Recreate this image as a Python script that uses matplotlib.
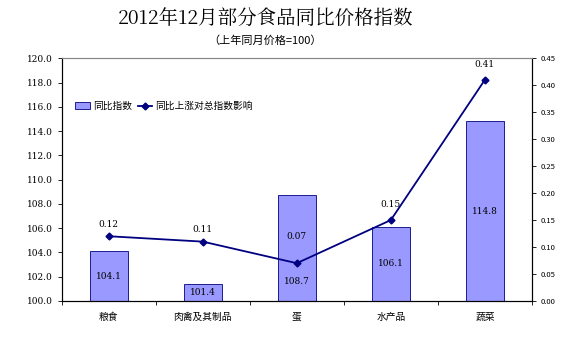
import matplotlib.pyplot as plt
import numpy as np

plt.rcParams['font.family'] = ['Noto Sans CJK SC', 'DejaVu Sans']

categories = ['粮食', '肉禽及其制品', '蛋', '水产品', '蔬菜']
index_values = [104.1, 101.4, 108.7, 106.1, 114.8]
impact_values = [0.12, 0.11, 0.07, 0.15, 0.41]
left_ticks = np.arange(100, 120.1, 2)
right_ticks = np.arange(0, 0.451, 0.05)

fig = plt.figure(figsize=(5.67, 3.37), dpi=100)
ax = fig.add_axes([0.109, 0.107, 0.829, 0.72])
ax2 = ax.twinx()

x = np.arange(len(categories))
ax.bar(x, [v - 100 for v in index_values], bottom=100, width=0.4,
       color='#9999ff', edgecolor='#000080', linewidth=0.6, label='同比指数', zorder=2)
ax.set_ylim(100, 120)
ax.set_xlim(-0.5, len(categories) - 0.5)
ax.set_yticks(left_ticks)
ax.set_yticklabels([f'{t:.1f}' for t in left_ticks], fontsize=6.5, family=['DejaVu Serif'])
ax.set_xticks(x)
ax.set_xticklabels(categories, fontsize=7)
ax.tick_params(axis='x', length=0, pad=8)
ax.set_xticks(np.arange(-0.5, len(categories)), minor=True)
ax.tick_params(axis='x', which='minor', length=3, direction='out', width=0.6)
ax.tick_params(axis='y', length=3, width=0.6)
for s in ax.spines.values():
    s.set_linewidth(0.8)
ax.spines['top'].set_color('#888888')

# bar value labels (egg label pushed down to stay clear of the line label)
for i, v in enumerate(index_values):
    y = (100 + v) / 2 if i != 2 else 101.6
    ax.text(i, y, f'{v:.1f}', ha='center', va='center', fontsize=6.5,
            family=['DejaVu Serif'], zorder=5)

ax2.plot(x, impact_values, color='#000080', linewidth=1.3, marker='D',
         markersize=3.5, label='同比上涨对总指数影响', zorder=4)
ax2.set_ylim(0, 0.45)
ax2.set_yticks(right_ticks)
ax2.set_yticklabels([f'{t:.2f}' for t in right_ticks], fontsize=5.5)
ax2.tick_params(axis='y', length=3, width=0.6)
for s in ax2.spines.values():
    s.set_linewidth(0.8)
ax2.spines['top'].set_color('#888888')

offsets = [0.022, 0.022, 0.05, 0.028, 0.028]
for i, v in enumerate(impact_values):
    ax2.text(i, v + offsets[i], f'{v:.2f}', ha='center', va='center', fontsize=6.5,
             family=['DejaVu Serif'])

h1, l1 = ax.get_legend_handles_labels()
h2, l2 = ax2.get_legend_handles_labels()
ax2.legend(h1 + h2, l1 + l2, loc='upper left', bbox_to_anchor=(0.01, 0.86), ncol=2,
           frameon=False, fontsize=7, handlelength=1.5, handletextpad=0.3,
           columnspacing=0.6)

fig.text(0.468, 0.945, '2012年12月部分食品同比价格指数', ha='center', va='center',
         fontsize=14, family=['Noto Serif CJK SC', 'Noto Sans CJK SC', 'DejaVu Serif'])
fig.text(0.468, 0.88, '（上年同月价格=100）', ha='center', va='center', fontsize=8)

fig.savefig('out.png', dpi=100)
